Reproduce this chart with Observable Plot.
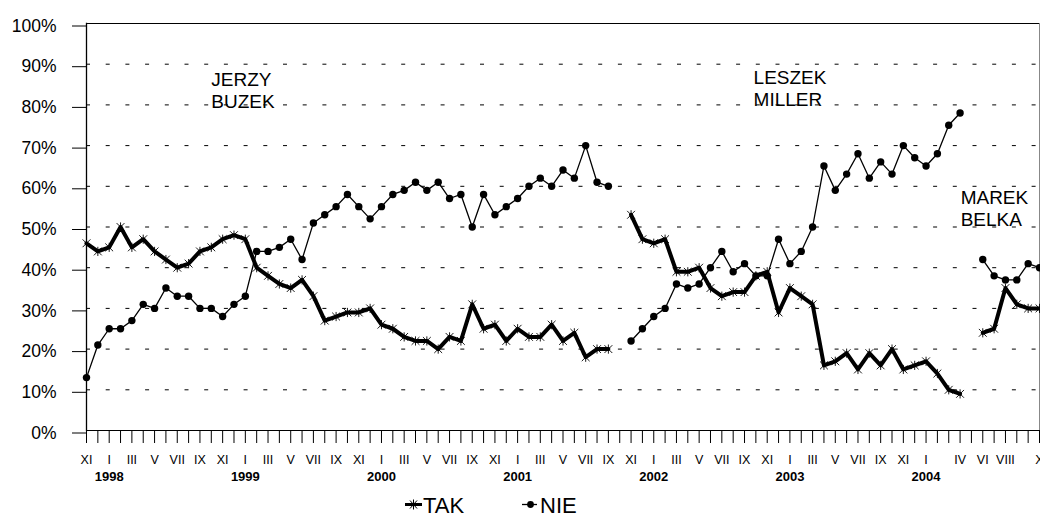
<!DOCTYPE html>
<html>
<head>
<meta charset="utf-8">
<script src="https://cdn.jsdelivr.net/npm/d3@7"></script>
<script src="https://cdn.jsdelivr.net/npm/@observablehq/plot@0.6"></script>
<style>
  html, body { margin: 0; padding: 0; background: #fff; }
  body { width: 1040px; height: 520px; overflow: hidden; font-family: "Liberation Sans", Arial, sans-serif; }
  #chart svg { display: block; }
  #legend { position: relative; height: 30px; width: 1040px; font-family: "Liberation Sans", Arial, sans-serif; }
  #legend .lbl { position: absolute; font-size: 22px; line-height: 22px; top: 4.7px; color: #000; }
  #legend svg { position: absolute; }
</style>
</head>
<body>
<div id="chart"></div>
<div id="legend"></div>
<script>
// ---- Category (survey month) labels, one per category slot ----
const monthLabels = [
  "XI","","I","","III","","V","","VII","","IX","",
  "XI","","I","","III","","V","","VII","","IX","",
  "XI","","I","","III","","V","","VII","","IX","",
  "XI","","I","","III","","V","","VII","","IX","",
  "XI","","I","","III","","V","","VII","","IX","",
  "XI","","I","","III","","V","","VII","","IX","",
  "XI","","I","","","IV","","VI","","VIII","","","X"
];
const yearLabels = ["1998","1999","2000","2001","2002","2003","2004"];
const yearSlots  = [2, 14, 26, 38, 50, 62, 74];
const yTicks = [0,10,20,30,40,50,60,70,80,90,100];

// ---- Governments (first category slot of each) ----
const governments = ["JERZY\nBUZEK", "LESZEK\nMILLER", "MAREK\nBELKA"];
const govStart = [0, 48, 79];

// ---- Series values (%) ----
const buzekTak = [46,44,45,50,45,47,44,42,40,41,44,45,47,48,47,40,38,36,35,37,33,27,28,29,29,
                  30,26,25,23,22,22,20,23,22,31,25,26,22,25,23,23,26,22,24,18,20,20];
const buzekNie = [13,21,25,25,27,31,30,35,33,33,30,30,28,31,33,44,44,45,47,42,51,53,55,
                  58,55,52,55,58,59,61,59,61,57,58,50,58,53,55,57,60,62,60,64,62,70,61,60];
const millerTak = [53,47,46,47,39,39,40,35,33,34,34,38,39,29,35,33,31,16,17,19,15,19,16,20,15,16,17,14,10,9];
const millerNie = [22,25,28,30,36,35,36,40,44,39,41,38,38,47,41,44,50,65,59,63,68,62,66,63,70,67,65,68,75,78];
const belkaTak = [24,25,35,31,30,30];
const belkaNie = [42,38,37,37,41,40];

// ---- Build tables ----
const takSeries = [buzekTak, millerTak, belkaTak];
const nieSeries = [buzekNie, millerNie, belkaNie];
function rows(seriesList) {
  const out = [];
  seriesList.forEach((vals, g) => vals.forEach((v, k) => out.push({i: govStart[g] + k, v, gov: g})));
  return out;
}
const takRows = rows(takSeries);
const nieRows = rows(nieSeries);

// annotation anchors (category slot, percent) for the government names
const annotations = [
  {label: governments[0], i: 11.0, v: 88.6},
  {label: governments[1], i: 58.8, v: 89.1},
  {label: governments[2], i: 77.05, v: 59.4}
];

// Excel-like "star" marker: an X plus a vertical stroke
const starSymbol = {
  draw(ctx, size) {
    const r = Math.sqrt(size / Math.PI);
    const a = r * 0.85;
    ctx.moveTo(-a, -a); ctx.lineTo(a, a);
    ctx.moveTo(-a, a); ctx.lineTo(a, -a);
    ctx.moveTo(0, -r); ctx.lineTo(0, r);
  }
};

const FONT = "Liberation Sans, Arial, sans-serif";
const slots = monthLabels.map((_, k) => k);

const chart = Plot.plot({
  width: 1040,
  height: 490,
  marginLeft: 86,
  marginRight: 1,
  marginTop: 23,
  marginBottom: 60,
  style: {fontFamily: FONT, color: "#000", background: "#fff", overflow: "visible"},
  x: {type: "linear", domain: [0, monthLabels.length - 1]},
  y: {domain: [0, 100]},
  marks: [
    Plot.gridY(yTicks.slice(1, -1), {stroke: "#000", strokeOpacity: 1, strokeWidth: 1, strokeDasharray: "4,15.7"}),
    Plot.ruleY([yTicks[0], yTicks[yTicks.length - 1]], {stroke: "#000", strokeWidth: 1}),
    Plot.frame({anchor: "left", stroke: "#000", strokeWidth: 1.3}),
    Plot.frame({anchor: "right", stroke: "#888", strokeWidth: 1}),
    Plot.axisY(yTicks, {
      tickSize: 14, tickPadding: 16, tickFormat: d => d + "%",
      fontSize: 17.5, dy: 2.5, stroke: "#000", label: null
    }),
    Plot.axisX(slots, {
      tickSize: 13, tickPadding: 11.5, tickFormat: k => monthLabels[k],
      fontSize: 12.5, stroke: "#000", label: null
    }),
    Plot.axisX(yearSlots, {
      tickSize: 0, tickPadding: 41, tickFormat: k => yearLabels[yearSlots.indexOf(k)],
      fontSize: 13, fontWeight: "bold", label: null
    }),
    Plot.lineY(nieRows, {x: "i", y: "v", z: "gov", stroke: "#000", strokeWidth: 1.3}),
    Plot.dot(nieRows, {x: "i", y: "v", r: 3.7, fill: "#000", stroke: "none"}),
    Plot.lineY(takRows, {x: "i", y: "v", z: "gov", stroke: "#000", strokeWidth: 4, strokeLinejoin: "round"}),
    Plot.dot(takRows, {x: "i", y: "v", symbol: starSymbol, r: 4.6, fill: "none", stroke: "#000", strokeWidth: 0.9}),
    Plot.text(annotations, {
      x: "i", y: "v", text: "label", textAnchor: "start", lineAnchor: "top",
      lineHeight: 1.16, fontSize: 19, fill: "#000"
    })
  ]
});
document.getElementById("chart").appendChild(chart);

// ---- Legend (below the SVG) ----
const legend = document.getElementById("legend");
legend.innerHTML = `
  <svg style="left:404px; top:8px" width="19" height="13" viewBox="0 0 19 13">
    <line x1="1" y1="6.5" x2="18" y2="6.5" stroke="#000" stroke-width="3"/>
    <path d="M6,2.5 L13,10.5 M6,10.5 L13,2.5 M9.5,1.5 L9.5,11.5" stroke="#000" stroke-width="1" fill="none"/>
  </svg>
  <span class="lbl" style="left:423px">TAK</span>
  <svg style="left:521px; top:8px" width="17" height="13" viewBox="0 0 17 13">
    <line x1="1" y1="6.5" x2="16" y2="6.5" stroke="#000" stroke-width="1.3"/>
    <circle cx="9.5" cy="6.5" r="3.4" fill="#000"/>
  </svg>
  <span class="lbl" style="left:540px">NIE</span>
`;
</script>
</body>
</html>
